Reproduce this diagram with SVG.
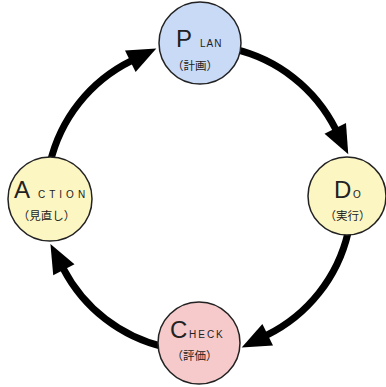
<svg xmlns="http://www.w3.org/2000/svg" width="386" height="387" viewBox="0 0 386 387">
  <style>
    .node circle { stroke: #222; stroke-width: 1.5; }
    .plan circle { fill: #c9daf7; }
    .do circle, .act circle { fill: #fcf6c2; }
    .check circle { fill: #f6caca; }
    .big { font-family: "Liberation Sans", Arial, sans-serif; font-size: 24px; fill: #222; }
    .small { font-family: "Liberation Sans", Arial, sans-serif; font-size: 10px; fill: #222; }
    .jp { font-family: "Noto Sans CJK JP", "Noto Sans CJK SC", sans-serif; font-size: 11.5px; fill: #222; text-anchor: middle; }
    .conn path { fill: none; stroke: #000; stroke-width: 7; marker-end: url(#arrow); }
  </style>
  <defs>
    <marker id="arrow" markerUnits="userSpaceOnUse" orient="auto" refX="0" refY="0" markerWidth="40" markerHeight="30" overflow="visible">
      <path d="M-1,-12 L28,0 L-1,12 Z" fill="#000"/>
    </marker>
  </defs>
  <rect width="386" height="387" fill="#fff"/>
  <g id="connectors" class="conn">
    <path d="M 49.9 163.6 A 153 153 0 0 1 131.2 60.8"/>
    <path d="M 233.4 48.9 A 153 153 0 0 1 335.7 129.3"/>
    <path d="M 348.1 232.4 A 153 153 0 0 1 266.8 335.2"/>
    <path d="M 164.6 347.1 A 153 153 0 0 1 63.4 268.9"/>
  </g>
  <g id="plan" class="node plan">
    <circle cx="200" cy="43" r="41"/>
    <text class="big" x="176" y="47">P</text>
    <text class="small" x="200" y="47" letter-spacing="1">LAN</text>
    <text class="jp" x="195" y="70">（計画）</text>
  </g>
  <g id="do" class="node do">
    <circle cx="347" cy="196" r="39"/>
    <text class="big" x="334" y="198">D</text>
    <text class="small" x="353" y="198" font-size="9">O</text>
    <text class="jp" x="347.5" y="220">（実行）</text>
  </g>
  <g id="check" class="node check">
    <circle cx="199" cy="343" r="41"/>
    <text class="big" x="170" y="338">C</text>
    <text class="small" x="189" y="338" letter-spacing="2">HECK</text>
    <text class="jp" x="194.5" y="360">（評価）</text>
  </g>
  <g id="action" class="node act">
    <circle cx="50" cy="199" r="42"/>
    <text class="big" x="14" y="198">A</text>
    <text class="small" x="38" y="198" letter-spacing="4">CTION</text>
    <text class="jp" x="46.5" y="220">（見直し）</text>
  </g>
</svg>
